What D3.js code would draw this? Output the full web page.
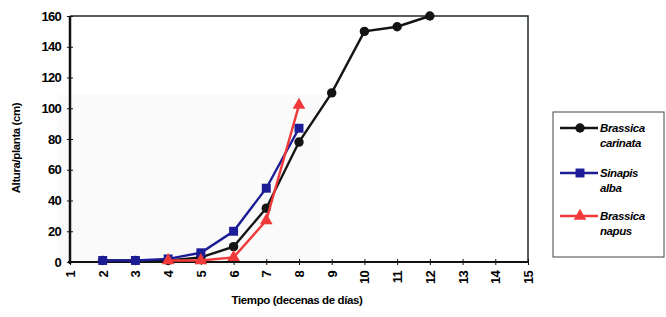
<!DOCTYPE html>
<html>
<head>
<meta charset="utf-8">
<script src="https://d3js.org/d3.v7.min.js"></script>
<style>
  body { margin: 0; background: #fff; }
  svg { font-family: "Liberation Sans", Arial, sans-serif; font-weight: bold; }
</style>
</head>
<body>
<script>
// data
var xTicks = [1,2,3,4,5,6,7,8,9,10,11,12,13,14,15];
var yTicks = [0,20,40,60,80,100,120,140,160];
var carinataX = [2,3,4,5,6,7,8,9,10,11,12];
var carinataY = [1,1,1,3,10,35,78,110,150,153,160];
var albaX = [2,3,4,5,6,7,8];
var albaY = [1,1,2,6,20,48,87];
var napusX = [4,5,6,7,8];
var napusY = [1,1,3,27,102];

var series = [
  {name: ["Brassica", "carinata"], xs: carinataX, ys: carinataY, color: "#141414", shape: d3.symbolCircle, size: 70},
  {name: ["Sinapis", "alba"], xs: albaX, ys: albaY, color: "#1c1c96", shape: d3.symbolSquare, size: 80},
  {name: ["Brassica", "napus"], xs: napusX, ys: napusY, color: "#f03a3a", shape: d3.symbolTriangle, size: 70}
];

var W = 666, H = 317;
var svg = d3.select("body").append("svg").attr("width", W).attr("height", H);

var x = d3.scaleLinear().domain([1, 15]).range([70, 528]);
var y = d3.scaleLinear().domain([0, 160]).range([262, 16]);

// faint scan tint in the lower left of the plot
svg.append("rect").attr("x", 58).attr("y", 95).attr("width", 262).attr("height", 170)
  .attr("fill", "#f9faf9");

// plot frame (top and right)
svg.append("path")
  .attr("d", "M" + x(1) + "," + y(160) + "H" + x(15) + "V" + y(0))
  .attr("fill", "none").attr("stroke", "#1e2a22").attr("stroke-width", 1.5);

// y axis
var yAxis = svg.append("g").attr("transform", "translate(" + x(1) + ",0)")
  .call(d3.axisLeft(y).tickValues(yTicks).tickSize(4).tickPadding(5));
yAxis.selectAll(".tick line").attr("x2", 3).attr("x1", -3).attr("stroke", "#111");
yAxis.select(".domain").remove();
yAxis.selectAll("text").attr("font-size", 13).attr("font-weight", "bold").attr("fill", "#000")
  .attr("font-family", "Liberation Sans, Arial, sans-serif").attr("letter-spacing", -0.7);
svg.append("line").attr("x1", x(1)).attr("x2", x(1)).attr("y1", y(160)).attr("y2", y(0) + 2)
  .attr("stroke", "#111").attr("stroke-width", 2.5);

// x axis
var xAxis = svg.append("g").attr("transform", "translate(0," + y(0) + ")")
  .call(d3.axisBottom(x).tickValues(xTicks).tickFormat(d3.format("d")).tickSize(4));
xAxis.select(".domain").remove();
xAxis.selectAll(".tick line").attr("y1", -3).attr("y2", 3).attr("stroke", "#111");
xAxis.selectAll("text")
  .attr("font-size", 13).attr("font-weight", "bold").attr("fill", "#000")
  .attr("font-family", "Liberation Sans, Arial, sans-serif").attr("letter-spacing", -0.7)
  .attr("text-anchor", "end").attr("dy", "0.35em")
  .attr("transform", "translate(0,9) rotate(-90)").attr("x", 0).attr("y", 0);
svg.append("line").attr("x1", x(1) - 2).attr("x2", x(15)).attr("y1", y(0)).attr("y2", y(0))
  .attr("stroke", "#111").attr("stroke-width", 2);

// lines and markers
var line = d3.line().x(function(d) { return x(d[0]); }).y(function(d) { return y(d[1]); });
series.forEach(function(s) {
  var pts = s.xs.map(function(v, i) { return [v, s.ys[i]]; });
  svg.append("path").datum(pts).attr("d", line)
    .attr("fill", "none").attr("stroke", s.color).attr("stroke-width", 2.4);
  svg.selectAll(null).data(pts).enter().append("path")
    .attr("d", d3.symbol().type(s.shape).size(s.size))
    .attr("transform", function(d) { return "translate(" + x(d[0]) + "," + y(d[1]) + ")"; })
    .attr("fill", s.color);
});

// axis titles
svg.append("text").attr("transform", "translate(20,148) rotate(-90)")
  .attr("text-anchor", "middle").attr("font-size", 11.5).attr("letter-spacing", -0.4)
  .attr("fill", "#000").text("Altura/planta (cm)");
svg.append("text").attr("x", 297).attr("y", 304)
  .attr("text-anchor", "middle").attr("font-size", 11.5).attr("letter-spacing", -0.4)
  .attr("fill", "#000").text("Tiempo (decenas de días)");

// legend
var lg = svg.append("g");
lg.append("rect").attr("x", 553).attr("y", 112).attr("width", 111).attr("height", 145)
  .attr("fill", "#fff").attr("stroke", "#444").attr("stroke-width", 1);
var legY = [128, 173, 216];
series.forEach(function(s, i) {
  var yy = legY[i];
  lg.append("line").attr("x1", 560).attr("x2", 598).attr("y1", yy).attr("y2", yy)
    .attr("stroke", s.color).attr("stroke-width", 2.4);
  lg.append("path").attr("d", d3.symbol().type(s.shape).size(s.size))
    .attr("transform", "translate(580," + yy + ")").attr("fill", s.color);
  s.name.forEach(function(t, j) {
    lg.append("text").attr("x", 600).attr("y", yy + 4 + j * 15)
      .attr("font-size", 11.5).attr("font-style", "italic").attr("letter-spacing", -0.4)
      .attr("fill", "#000").text(t);
  });
});
</script>
</body>
</html>
